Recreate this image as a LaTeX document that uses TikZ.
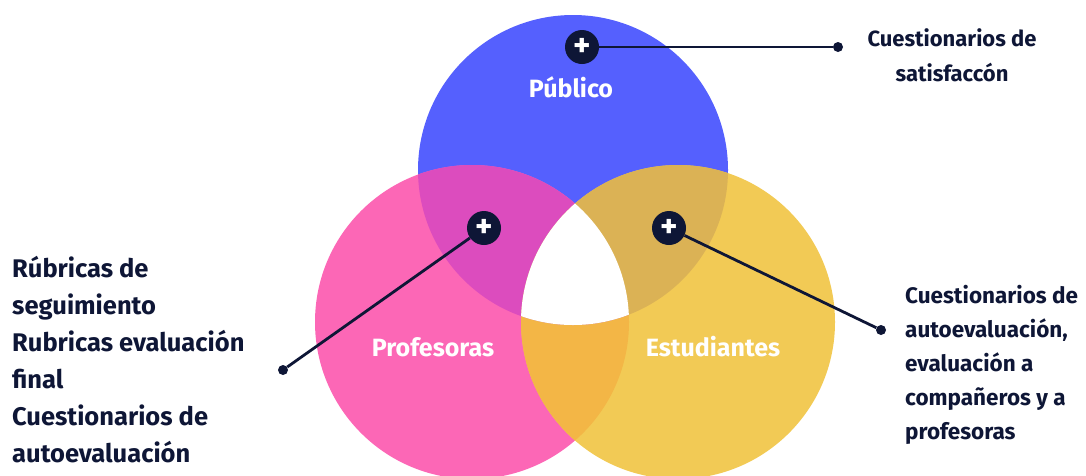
\documentclass[tikz,border=0pt]{standalone}
\usepackage{fontspec}
\setmainfont{Fira Sans}
\usetikzlibrary{positioning}
\definecolor{navy}{HTML}{0E1636}
\definecolor{pubblue}{HTML}{5560FE}
\definecolor{profpink}{HTML}{FC67B6}
\definecolor{estyellow}{HTML}{F2CA55}
\definecolor{mixpink}{HTML}{DC4CBE}
\definecolor{mixtan}{HTML}{DBB255}
\definecolor{mixorange}{HTML}{F3B646}

\begin{document}
\begin{tikzpicture}[x=1pt, y=-1pt,
    plus/.style={circle, fill=navy, minimum size=34pt, inner sep=0pt, text=white, font=\bfseries\fontsize{33}{33}\selectfont},
    dot/.style={circle, fill=navy, minimum size=10pt, inner sep=0pt},
    link/.style={draw=navy, line width=2.8pt},
    group/.style={text=white, font=\bfseries\fontsize{25}{28}\selectfont},
    note/.style={text=navy, inner sep=0pt, align=left}]

    \useasboundingbox (0,0) rectangle (1086,475);
    \clip (0,0) rectangle (1086,475);

    % the three sets
    \fill [pubblue] (573,170) circle (155);
    \fill [profpink] (472,322) circle (157);
    \fill [estyellow] (678,322) circle (157);
    \begin{scope}
        \clip (472,322) circle (157);
        \fill [mixorange] (678,322) circle (157);
    \end{scope}
    \begin{scope}
        \clip (573,170) circle (155);
        \fill [mixpink] (472,322) circle (157);
        \fill [mixtan] (678,322) circle (157);
        \clip (472,322) circle (157);
        \fill [white] (678,322) circle (157);
    \end{scope}

    \node [group] (pub) at (571,87) {Público};
    \node [group] (prof) at (433,347) {Profesoras};
    \node [group] (est) at (713,347) {Estudiantes};

    % markers and their notes
    \node [dot] (pubdot) at (838,47) {};
    \node [dot] (profdot) at (283,370) {};
    \node [dot] (estdot) at (881,330) {};

    \node [plus] (pubplus) at (582,47) {+};
    \node [plus] (profplus) at (484,228) {+};
    \node [plus] (estplus) at (669,228) {+};

    \draw [link] (pubplus) -- (pubdot);
    \draw [link] (profplus) -- (profdot);
    \draw [link] (estplus) -- (estdot);

    \node [note, align=center, font=\bfseries\fontsize{22}{35}\selectfont] (pubnote) at (952,55)
        {Cuestionarios de\\satisfaccón};
    \node [note, anchor=north west, font=\bfseries\fontsize{25.5}{37}\selectfont] (profnote) at (12,256)
        {Rúbricas de\\seguimiento\\Rubricas evaluación\\final\\Cuestionarios de\\autoevaluación};
    \node [note, anchor=north west, font=\bfseries\fontsize{22.5}{34}\selectfont] (estnote) at (905,285)
        {Cuestionarios de\\autoevaluación,\\evaluación a\\compañeros y a\\profesoras};
\end{tikzpicture}
\end{document}
